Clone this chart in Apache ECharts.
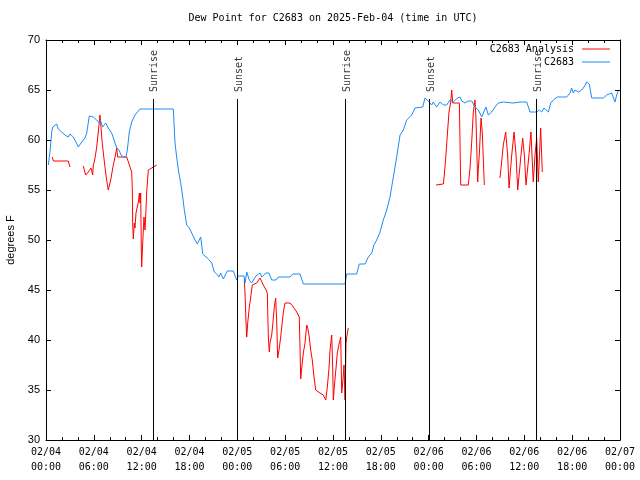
<!DOCTYPE html>
<html><head><meta charset="utf-8">
<script src="https://cdn.jsdelivr.net/npm/echarts@6/dist/echarts.min.js"></script>
<style>html,body{margin:0;padding:0;background:#fff}#c{width:640px;height:480px}</style>
</head><body><div id="c"></div>
<script>
// ---- data (x = hours since 2025-02-04 00:00 UTC, y = degrees F) ----
const blueHours = [0.29,0.5,0.72,0.84,1.07,1.34,1.54,1.97,2.38,2.8,3.01,3.42,3.76,4.05,4.48,4.89,5.11,5.43,5.93,6.36,6.69,6.81,7.11,7.49,7.81,8.24,8.53,8.87,9.16,9.41,9.7,10.04,10.2,10.45,10.75,11.16,11.79,15.97,16.18,16.39,16.6,16.9,17.15,17.35,17.65,17.98,18.28,18.69,18.98,19.23,19.41,19.66,19.94,20.36,20.79,21.11,21.41,21.7,21.91,22.24,22.74,23.49,23.92,24.12,24.84,24.97,25.18,25.5,25.78,26.34,26.84,27.06,27.6,27.97,28.31,28.85,29.14,30.61,30.95,31.86,32.28,37.51,37.72,38.97,39.3,40.02,40.43,40.86,41.14,41.48,41.9,42.31,42.74,43.15,43.57,43.99,44.41,44.82,45.25,45.87,46.29,47.25,47.54,47.96,48.38,48.58,49.01,49.42,49.84,50.26,50.68,51.09,51.59,51.93,52.14,52.55,52.97,53.4,53.81,54.23,54.65,54.86,55.19,55.48,55.91,56.32,56.74,57.36,58.62,59.46,60.3,60.71,61.55,61.88,62.18,62.47,63.01,63.31,63.64,64.14,64.69,65.32,65.73,65.94,66.15,66.36,66.77,67.2,67.49,67.82,68.15,68.45,69.91,70.33,70.96,71.16,71.37,71.58,71.78];
const blueValues = [57.5,58.8,60.8,61.3,61.1,61.6,61.1,60.8,60.5,60.3,60.6,60.3,59.8,59.3,59.8,60.2,60.7,62.4,62.3,62.0,61.7,62.0,61.3,61.7,61.2,60.7,60.0,59.2,59.0,58.5,58.3,58.3,59.0,60.8,61.8,62.5,63.1,63.1,59.7,58.3,57.0,55.7,54.3,53.0,51.5,51.2,50.7,50.0,49.6,49.8,50.3,48.6,48.4,48.1,47.7,46.8,46.6,46.3,46.7,46.1,46.9,46.9,46.0,46.4,46.4,45.7,46.8,46.0,45.7,46.4,46.7,46.3,46.7,46.7,46.0,46.0,46.3,46.3,46.6,46.6,45.6,45.6,46.6,46.6,47.6,47.6,48.3,48.7,49.5,50.0,50.8,52.0,53.0,54.3,56.3,58.3,60.5,61.0,62.0,62.5,63.2,63.3,64.2,63.9,63.5,63.8,63.3,63.8,63.5,63.5,64.0,63.8,64.2,64.3,63.9,63.7,63.9,63.9,63.3,63.0,62.3,62.7,63.3,62.5,62.8,63.3,63.7,63.8,63.7,63.8,63.8,62.8,62.8,63.0,62.8,63.2,62.8,63.7,64.0,64.3,64.3,64.3,64.7,65.2,64.7,65.0,64.8,65.0,65.3,65.8,65.6,64.2,64.2,64.5,64.7,64.8,63.8,64.5,64.9];

// analysis series, drawn in separate segments (gaps between them)
const redHours1 = [0.79,0.92,2.8,2.92,3.01];
const redValues1 = [58.3,57.9,57.9,57.7,57.3];
const redHours2 = [4.68,4.8,4.98,5.31,5.64,5.86,5.93,6.15,6.36,6.56,6.77,6.9,7.02,7.19,7.4,7.61,7.81,7.94,8.12,8.37,8.66,8.87,8.99,9.7,10.12,10.54,10.75,10.83,10.87,10.95,11.08,11.16,11.29,11.58,11.71,11.79,11.88,11.95,12.0,12.13,12.29,12.42,12.54,12.63,12.83,13.26,13.89];
const redValues2 = [57.4,57.0,56.5,56.8,57.2,56.5,57.4,58.2,59.3,60.8,62.5,61.3,60.0,58.7,57.3,56.0,55.0,55.2,56.0,57.2,58.3,59.2,58.3,58.3,58.3,57.3,56.8,55.0,51.8,50.1,51.7,51.2,52.7,53.8,54.7,53.7,54.7,49.3,47.3,49.7,52.3,51.0,53.0,54.8,57.0,57.2,57.5];
const redHours3 = [24.87,24.96,25.09,25.18,25.3,25.51,25.68,25.88,26.0,26.13,26.43,26.84,27.06,27.26,27.6,27.76,27.89,28.01,28.1,28.31,28.44,28.64,28.81,28.94,29.06,29.23,29.44,29.56,29.77,29.98,30.61,31.02,31.45,31.77,31.86,31.95,32.08,32.28,32.49,32.7,32.83,32.99,33.2,33.4,33.62,33.83,34.03,34.37,34.78,35.09,35.29,35.5,35.63,35.84,35.96,36.04,36.16,36.38,36.54,36.79,36.97,37.09,37.22,37.38,37.51,37.63,37.8,37.92];
const redValues3 = [46.1,44.7,41.8,40.3,41.7,43.3,44.3,45.5,45.7,45.3,45.7,46.2,46.0,45.5,45.0,44.7,40.3,38.8,39.7,40.5,41.5,43.3,44.2,41.8,38.2,39.0,40.3,41.2,42.8,43.7,43.7,43.3,42.8,42.3,39.3,36.1,37.2,38.7,39.7,41.5,41.2,40.5,39.0,38.0,36.3,35.0,34.8,34.7,34.5,34.0,35.3,37.2,39.0,40.5,37.3,34.0,35.3,37.2,38.7,39.7,40.3,34.7,35.7,37.5,34.0,39.7,40.7,41.2];
const redHours4 = [48.92,49.84,49.96,50.14,50.34,50.55,50.77,50.89,51.02,51.85,52.02,52.98,53.19,53.4,53.6,53.81,53.93,54.15,54.22,54.35,54.57,54.73,54.98];
const redValues4 = [55.5,55.6,56.5,58.2,60.5,62.8,63.8,65.0,63.7,63.7,55.5,55.5,57.2,59.8,62.8,64.0,62.2,55.8,57.0,58.5,62.2,60.7,55.5];
const redHours5 = [56.95,57.36,57.66,57.91,58.08,58.42,58.71,58.96,59.17,59.58,59.79,60.0,60.21,60.58,60.83,61.12,61.34,61.55,61.75,62.05,62.25];
const redValues5 = [56.2,59.5,60.8,58.5,55.2,58.5,60.8,58.5,55.0,58.5,60.2,58.5,55.5,58.5,60.8,55.8,58.5,60.2,55.8,61.2,56.8];

const sunHours = [13.42, 24.03, 37.57, 48.1, 61.53];
const sunNames = ['Sunrise', 'Sunset', 'Sunrise', 'Sunset', 'Sunrise'];
const sunLineTop = 64.1;

const xTickDays = ['02/04','02/05','02/06','02/07'];
const titleText = 'Dew Point for C2683 on 2025-Feb-04 (time in UTC)';

// ---- chart ----
const MONO = 'DejaVu Sans Mono';
const SANS = 'Liberation Sans';
const RED = '#ff0000', BLUE = '#1e8cf5';

function pairs(h, v) { return h.map((x, i) => [x, v[i]]); }
function xFmt(val) {
  const d = Math.floor(val / 24), hr = Math.round(val % 24);
  return xTickDays[d] + '\n' + String(hr).padStart(2, '0') + ':00';
}

const redSegs = [[redHours1, redValues1], [redHours2, redValues2], [redHours3, redValues3], [redHours4, redValues4], [redHours5, redValues5]];

const series = redSegs.map(([h, v]) => ({
  name: 'C2683 Analysis', type: 'line', data: pairs(h, v), showSymbol: false, symbol: 'none',
  color: RED, lineStyle: { color: RED, width: 1 }, itemStyle: { color: RED }, silent: true
}));
series.push({
  name: 'C2683', type: 'line', data: pairs(blueHours, blueValues), showSymbol: false, symbol: 'none',
  color: BLUE, lineStyle: { color: BLUE, width: 1 }, itemStyle: { color: BLUE }, silent: true
});
series.push({
  name: 'sun', type: 'scatter', symbolSize: 0, silent: true,
  data: sunHours.map((h, i) => ({ value: [h, sunLineTop], name: sunNames[i] })),
  label: {
    show: true, formatter: p => p.name, rotate: 90, position: [1.5, -7],
    align: 'left', verticalAlign: 'middle', fontFamily: MONO, fontSize: 10, color: '#000'
  },
  markLine: {
    silent: true, symbol: 'none', animation: false,
    lineStyle: { color: '#000', width: 1, type: 'solid' }, label: { show: false },
    data: sunHours.map(h => [{ coord: [h, 30] }, { coord: [h, sunLineTop] }])
  }
});

const baseX = {
  type: 'value', min: 0, max: 72, interval: 6,
  axisLine: { show: true, onZero: false, lineStyle: { color: '#000', width: 1 } },
  axisTick: { show: true, inside: true, length: 5, lineStyle: { color: '#000' } },
  minorTick: { show: true, splitNumber: 3, length: 3, lineStyle: { color: '#000' } },
  splitLine: { show: false }
};
const baseY = {
  type: 'value', min: 30, max: 70, interval: 5,
  axisLine: { show: true, onZero: false, lineStyle: { color: '#000', width: 1 } },
  axisTick: { show: true, inside: true, length: 5, lineStyle: { color: '#000' } },
  splitLine: { show: false }
};

const legendBase = {
  orient: 'vertical', align: 'right', right: 30, icon: 'rect', itemWidth: 28, itemHeight: 1,
  padding: 0, selectedMode: false,
  textStyle: { fontFamily: MONO, fontSize: 10, color: '#000', padding: [0, 3, 0, 0] }
};

const option = {
  animation: false,
  backgroundColor: '#fff',
  title: {
    text: titleText, left: 333, top: 13, textAlign: 'center', padding: 0,
    textStyle: { fontFamily: MONO, fontSize: 10, fontWeight: 'normal', color: '#000' }
  },
  legend: [
    Object.assign({}, legendBase, { data: ['C2683 Analysis'], top: 44 }),
    Object.assign({}, legendBase, { data: ['C2683'], top: 57 })
  ],
  grid: { left: 46, right: 20, top: 40, bottom: 40, containLabel: false, outerBoundsMode: 'none' },
  xAxis: [
    Object.assign({}, baseX, {
      position: 'bottom',
      axisLabel: { formatter: xFmt, fontFamily: MONO, fontSize: 10, color: '#000', lineHeight: 15, margin: 5 }
    }),
    Object.assign({}, baseX, { position: 'top', axisLabel: { show: false } })
  ],
  yAxis: [
    Object.assign({}, baseY, {
      position: 'left', name: 'degrees F', nameLocation: 'middle', nameGap: 30, nameRotate: 90,
      nameTextStyle: { fontFamily: SANS, fontSize: 11, color: '#000' },
      axisLabel: { fontFamily: SANS, fontSize: 11, color: '#000', margin: 6 }
    }),
    Object.assign({}, baseY, { position: 'right', axisLabel: { show: false } })
  ],
  series: series
};

const chart = echarts.init(document.getElementById('c'), null, { renderer: 'canvas' });
chart.setOption(option);
</script></body></html>
